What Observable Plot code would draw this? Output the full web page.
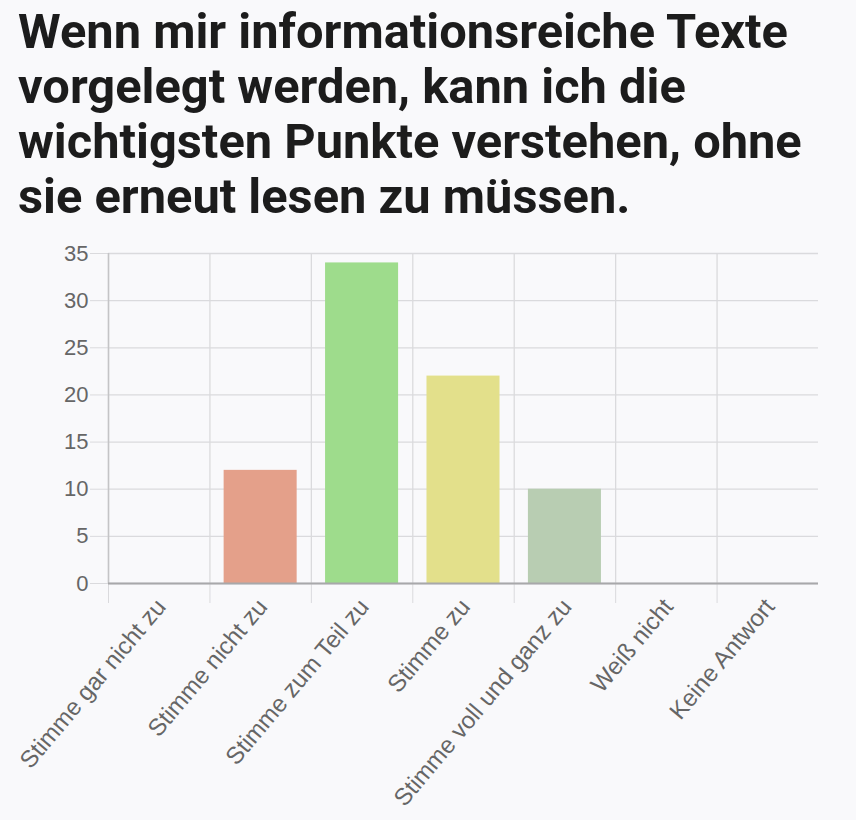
<!DOCTYPE html>
<html>
<head>
<meta charset="utf-8">
<script src="https://cdn.jsdelivr.net/npm/d3@7"></script>
<script src="https://cdn.jsdelivr.net/npm/@observablehq/plot@0.6"></script>
<style>
  html, body { margin: 0; padding: 0; background: #f9f9fb; }
  #title { font-family: Roboto, "Noto Sans", sans-serif; font-weight: 700; font-size: 48.8px; line-height: 55px; color: #1c1c1c; padding: 4px 0 0 18px; margin: 0; width: 836px; height: 226px; box-sizing: border-box; }
  #chart svg { display: block; }
</style>
</head>
<body>
<div id="title">Wenn mir informationsreiche Texte vorgelegt werden, kann ich die wichtigsten Punkte verstehen, ohne sie erneut lesen zu müssen.</div>
<div id="chart"></div>
<script>
const categories = ["Stimme gar nicht zu", "Stimme nicht zu", "Stimme zum Teil zu", "Stimme zu", "Stimme voll und ganz zu", "Weiß nicht", "Keine Antwort"];
const values = [0, 12, 34, 22, 10, 0, 0];
const colors = ["#e4a08a", "#e4a08a", "#9edc8c", "#e3e08b", "#b8cdb2", "#cccccc", "#cccccc"];
const yTicks = [0, 5, 10, 15, 20, 25, 30, 35];

const data = categories.map((c, i) => ({ i, c, v: values[i], color: colors[i] }));
const bounds = categories.map((c, i) => i);
const centers = categories.map((c, i) => i + 0.5);

const chart = Plot.plot({
  width: 856,
  height: 594,
  marginLeft: 108,
  marginRight: 38,
  marginTop: 27,
  marginBottom: 237,
  style: { background: "transparent", fontFamily: "'Liberation Sans', Arial, sans-serif", fontSize: "22px", color: "#666" },
  x: { type: "linear", domain: [0, 7] },
  y: { domain: [0, 35] },
  marks: [
    Plot.gridY(yTicks, { stroke: "#dadadd", strokeOpacity: 1, strokeWidth: 1.3 }),
    Plot.gridX(bounds, { stroke: "#dadadd", strokeOpacity: 1, strokeWidth: 1.3 }),
    Plot.axisY(yTicks, { tickSize: 18, tickPadding: 2, stroke: "#dadadd", fill: "#666", fontSize: 22, label: null }),
    Plot.axisX(bounds, { tickSize: 20, text: null, stroke: "#dadadd", label: null }),
    Plot.axisX(centers, { tickSize: 0, tickRotate: -50, tickPadding: 19, dx: 2, tickFormat: (d) => categories[Math.floor(d)], fill: "#666", fontSize: 24, label: null }),
    Plot.rectY(data, { x1: "i", x2: (d) => d.i + 1, y: "v", fill: "color", insetLeft: 14.2, insetRight: 14.2 }),
    Plot.ruleX([0], { stroke: "#c4c4c6", strokeWidth: 1.5, y1: 0, y2: 35 }),
    Plot.ruleY([0], { stroke: "#a8a8aa", strokeWidth: 2 })
  ]
});
document.getElementById("chart").appendChild(chart);
</script>
</body>
</html>
